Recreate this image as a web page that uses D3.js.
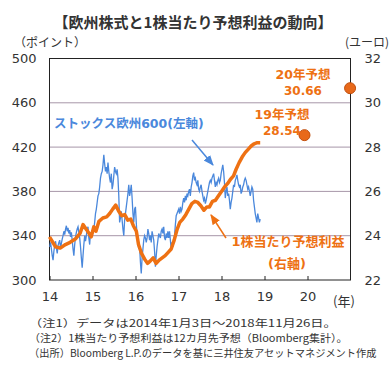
<!DOCTYPE html>
<html><head><meta charset="utf-8">
<script src="https://cdn.jsdelivr.net/npm/d3@7"></script>
<style>
body{margin:0;background:#fff;}
svg{display:block;font-family:"DejaVu Sans","Noto Sans CJK JP",sans-serif;}
</style></head>
<body>
<script>
// ---- data ----
const stoxxStart = 2014 + 2/365.25;   // 2014-01-03
const stoxxEnd = 2018 + 329/365.25;   // 2018-11-26
const stoxx = [
// 2014
330,334,328,322,318,326,332,335,329,324,331,334,336,328,333,337,340,344,341,346,349,344,347,342,345,339,343,336,328,322,332,339,343,346,348,343,338,330,320,311,322,332,340,335,340,346,348,338,332,343,340,345,
// 2015
342,346,352,360,364,370,376,378,384,392,396,398,404,413,405,398,402,396,406,398,392,388,396,382,386,394,402,398,396,400,392,376,352,356,362,354,346,340,354,360,366,372,378,386,376,380,386,374,360,352,364,366,
// 2016
352,340,334,328,330,316,306,320,328,336,340,338,334,338,346,342,336,340,334,344,340,336,326,312,322,330,336,342,340,338,344,346,342,348,338,336,342,338,344,338,344,336,328,334,330,336,340,350,358,360,362,
// 2017
364,360,366,362,364,370,374,370,376,372,378,376,380,382,376,384,388,394,397,390,392,388,386,390,382,380,384,386,380,376,372,374,369,372,376,380,384,388,390,388,392,394,396,390,384,388,386,390,392,388,390,
// 2018
396,400,404,398,388,374,380,384,376,378,372,364,370,374,380,386,384,390,392,395,390,386,384,386,378,380,384,386,390,392,390,386,382,384,380,376,380,384,382,372,366,360,356,352,360,356,352,355
];
const epsT = [2014.00,2014.14,2014.25,2014.37,2014.48,2014.60,2014.71,2014.78,2014.87,2014.97,2015.03,2015.08,2015.15,2015.24,2015.33,2015.40,2015.47,2015.54,2015.61,2015.68,2015.75,2015.82,2015.89,2015.95,2016.02,2016.07,2016.14,2016.21,2016.28,2016.34,2016.41,2016.48,2016.55,2016.62,2016.69,2016.76,2016.83,2016.90,2016.97,2017.03,2017.10,2017.17,2017.24,2017.31,2017.38,2017.45,2017.52,2017.59,2017.66,2017.72,2017.79,2017.86,2017.93,2018.00,2018.07,2018.14,2018.21,2018.28,2018.34,2018.41,2018.48,2018.55,2018.62,2018.69,2018.76,2018.83,2018.90];
const epsV = [23.95,23.5,23.44,23.6,23.7,23.85,24.1,24.5,24.25,23.95,24.4,24.2,24.65,24.8,24.85,25.0,25.2,25.38,25.1,24.9,24.95,24.7,24.75,24.45,24.2,23.6,23.2,22.95,22.75,22.85,23.0,22.75,22.9,23.0,23.1,23.25,23.4,23.8,24.3,24.6,24.75,24.95,25.2,25.45,25.55,25.5,25.35,25.15,25.3,25.3,25.55,25.6,25.8,26.0,26.2,26.35,26.55,26.7,27.0,27.3,27.55,27.75,27.9,28.05,28.15,28.2,28.2];
const forecastT = [2019.93, 2020.99];
const forecastV = [28.54, 30.66];
const forecastLabels = ["19年予想","20年予想"];
const leftTicks = [300,340,380,420,460,500];
const rightTicks = [22,24,26,28,30,32];
const yearTicks = [2014,2015,2016,2017,2018,2019,2020];
const yearLabels = ["14","15","16","17","18","19","20"];
const notes = [
 "（注1）データは2014年1月3日～2018年11月26日。",
 "（注2）1株当たり予想利益は12カ月先予想（Bloomberg集計）。",
 "（出所）Bloomberg L.P.のデータを基に三井住友アセットマネジメント作成"
];

// ---- chart ----
const W = 390, H = 369;
const L = 49.5, R = 350.5, T = 58.5, B = 280;
const svg = d3.select("body").append("svg").attr("width", W).attr("height", H);
const x = d3.scaleLinear().domain([2014, 2021]).range([L, R]);
const yL = d3.scaleLinear().domain([300, 500]).range([B, T]);
const yR = d3.scaleLinear().domain([22, 32]).range([B, T]);
const BLUE = "#4a88dc", ORANGE = "#ee7113", TXT = "#333";

svg.append("text").attr("x", 193).attr("y", 28).attr("text-anchor", "middle")
  .attr("font-size", 15).attr("font-weight", "bold").attr("fill", "#333")
  .attr("font-family", "'Noto Sans CJK JP'")
  .text("【欧州株式と1株当たり予想利益の動向】");

svg.append("text").attr("x", 14).attr("y", 47).attr("font-size", 12).attr("fill", TXT)
  .attr("font-family", "'Noto Sans CJK JP'").text("（ポイント）");
svg.append("text").attr("x", 389).attr("y", 47).attr("font-size", 12).attr("fill", TXT)
  .attr("text-anchor", "end").attr("font-family", "'Noto Sans CJK JP'").text("(ユーロ)");

// grid
svg.append("g").selectAll("line").data(leftTicks.filter(d => d > 300 && d < 500)).join("line")
  .attr("x1", L).attr("x2", R).attr("y1", d => yL(d)).attr("y2", d => yL(d))
  .attr("stroke", "#a796a8").attr("stroke-width", 1);

// axes
const gl = svg.append("g").attr("transform", `translate(${L},0)`)
  .call(d3.axisLeft(yL).tickValues(leftTicks).tickSize(0).tickPadding(13));
const gr = svg.append("g").attr("transform", `translate(${R},0)`)
  .call(d3.axisRight(yR).tickValues(rightTicks).tickSize(0).tickPadding(14));
const gb = svg.append("g").attr("transform", `translate(0,${B})`)
  .call(d3.axisBottom(x).tickValues(yearTicks).tickSize(-4).tickPadding(14)
    .tickFormat((d, i) => yearLabels[i]));
[gl, gr, gb].forEach(g => {
  g.select(".domain").remove();
  g.selectAll("text").attr("font-size", 13).attr("fill", TXT).attr("font-family", "'DejaVu Sans'");
  g.selectAll("line").attr("stroke", "#222");
});
gb.selectAll(".tick text").attr("dy", "0.5em");
svg.append("text").attr("x", 344).attr("y", 306).attr("text-anchor", "middle")
  .attr("font-size", 13).attr("fill", TXT).attr("font-family", "'Noto Sans CJK JP'").text("(年)");

// frame
svg.append("rect").attr("x", L).attr("y", T).attr("width", R - L).attr("height", B - T)
  .attr("fill", "none").attr("stroke", "#222").attr("stroke-width", 1);

// blue line
const n = stoxx.length;
const stoxxT = stoxx.map((d, i) => stoxxStart + i * (stoxxEnd - stoxxStart) / (n - 1));
svg.append("path").datum(stoxx)
  .attr("d", d3.line().x((d, i) => x(stoxxT[i])).y(d => yL(d)))
  .attr("fill", "none").attr("stroke", BLUE).attr("stroke-width", 1.3);

// orange line
svg.append("path").datum(epsV)
  .attr("d", d3.line().x((d, i) => x(epsT[i])).y(d => yR(d)))
  .attr("fill", "none").attr("stroke", ORANGE).attr("stroke-width", 3.5)
  .attr("stroke-linejoin", "round");

// forecast dots
svg.append("g").selectAll("circle").data(forecastV).join("circle")
  .attr("cx", (d, i) => x(forecastT[i])).attr("cy", d => yR(d)).attr("r", 5.5)
  .attr("fill", "#e8691a").attr("stroke", "#c14e0c").attr("stroke-width", 1);

const lab = (tx, px, py, col, anchor = "middle", fs = 13) =>
  svg.append("text").attr("x", px).attr("y", py).attr("text-anchor", anchor)
    .attr("font-size", fs).attr("font-weight", "bold").attr("fill", col).text(tx);

lab(forecastLabels[1], 303, 79, ORANGE, "middle", 12.5);
lab(forecastV[1].toFixed(2), 303, 95, ORANGE, "middle", 12);
lab(forecastLabels[0], 282, 119, ORANGE, "middle", 12.5);
lab(forecastV[0].toFixed(2), 282, 135, ORANGE, "middle", 12);
lab("ストックス欧州600(左軸)", 54, 128, BLUE, "start", 12.5);
lab("1株当たり予想利益", 288, 246, ORANGE);
lab("(右軸)", 287, 268, ORANGE);

// arrows
const defs = svg.append("defs");
[["ab", BLUE], ["ao", ORANGE]].forEach(([id, c]) => {
  defs.append("marker").attr("id", id).attr("viewBox", "0 0 10 10").attr("refX", 9).attr("refY", 5)
    .attr("markerWidth", 7).attr("markerHeight", 7).attr("orient", "auto")
    .append("path").attr("d", "M0,1L10,5L0,9Z").attr("fill", c);
});
svg.append("line").attr("x1", 192).attr("y1", 140).attr("x2", 213).attr("y2", 165)
  .attr("stroke", BLUE).attr("stroke-width", 1.5).attr("marker-end", "url(#ab)");
svg.append("line").attr("x1", 226).attr("y1", 238).attr("x2", 211).attr("y2", 215)
  .attr("stroke", ORANGE).attr("stroke-width", 1.5).attr("marker-end", "url(#ao)");

// notes (horizontally condensed to the reference widths)
const noteLen = [308, 319, 348];
svg.append("g").selectAll("text").data(notes).join("text")
  .attr("x", 0).attr("y", 0)
  .attr("font-size", 10.3).attr("fill", TXT).attr("font-family", "'Noto Sans CJK JP'")
  .text(d => d)
  .each(function (d, i) {
    const w = this.getComputedTextLength();
    const s = noteLen[i] / w;
    d3.select(this).attr("transform", `translate(29,${327 + i * 15.2}) scale(${s},1)`);
  });
</script>
</body></html>
